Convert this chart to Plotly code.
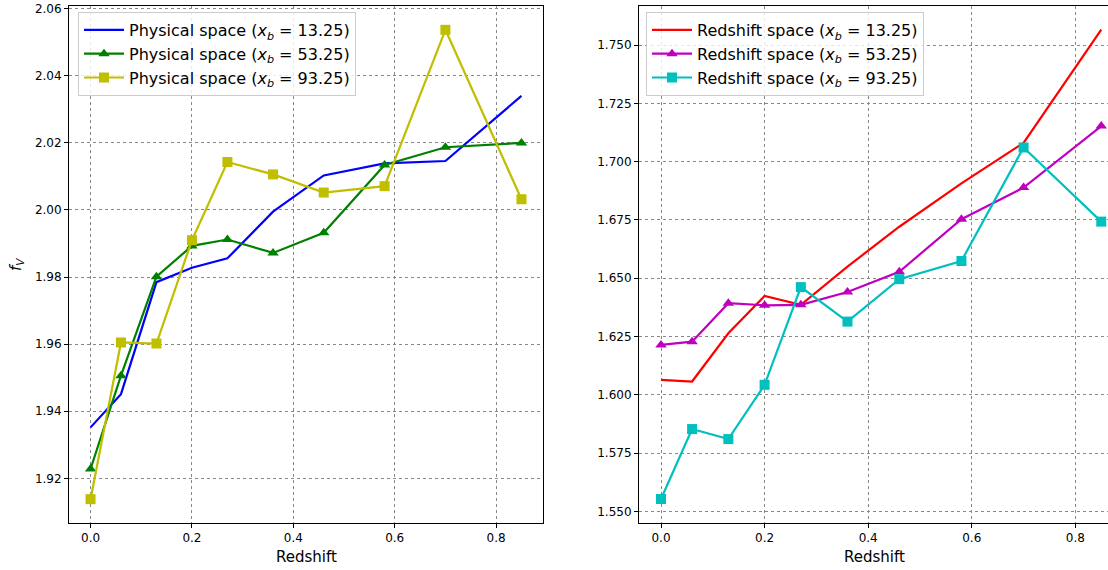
import plotly.graph_objects as go

redshift = [0.0, 0.06, 0.13, 0.20, 0.27, 0.36, 0.46, 0.58, 0.70, 0.85]

phys_13 = [1.9352, 1.9451, 1.9785, 1.9828, 1.9856, 1.9995, 2.0103, 2.0139, 2.0146, 2.0340]
phys_53 = [1.9228, 1.9506, 1.9801, 1.9893, 1.9912, 1.9872, 1.9932, 2.0134, 2.0187, 2.0200]
phys_93 = [1.9138, 1.9605, 1.9602, 1.9910, 2.0143, 2.0106, 2.0052, 2.0071, 2.0537, 2.0032]

red_13 = [1.6064, 1.6057, 1.6264, 1.6424, 1.6386, 1.6550, 1.6721, 1.6907, 1.7081, 1.7567]
red_53 = [1.6214, 1.6228, 1.6393, 1.6384, 1.6386, 1.6441, 1.6528, 1.6753, 1.6889, 1.7153]
red_93 = [1.5553, 1.5853, 1.5810, 1.6043, 1.6462, 1.6314, 1.6496, 1.6574, 1.7061, 1.6743]

left_yticks = [1.92, 1.94, 1.96, 1.98, 2.00, 2.02, 2.04, 2.06]
right_yticks = [1.550, 1.575, 1.600, 1.625, 1.650, 1.675, 1.700, 1.725, 1.750]
xticks = [0.0, 0.2, 0.4, 0.6, 0.8]

FONT = "DejaVu Sans"
fig = go.Figure()

def add(y, name, color, symbol, xa, ya, leg):
    mode = "lines" if symbol is None else "lines+markers"
    fig.add_trace(go.Scatter(
        x=redshift, y=y, name=name, mode=mode,
        line=dict(color=color, width=2.2),
        marker=dict(symbol=symbol or "circle", size=10, color=color),
        xaxis=xa, yaxis=ya, legend=leg))

add(phys_13, "Physical space (<i>x<sub>b</sub></i> = 13.25)", "#0000ff", None, "x", "y", "legend")
add(phys_53, "Physical space (<i>x<sub>b</sub></i> = 53.25)", "#008000", "triangle-up", "x", "y", "legend")
add(phys_93, "Physical space (<i>x<sub>b</sub></i> = 93.25)", "#bfbf00", "square", "x", "y", "legend")
add(red_13, "Redshift space (<i>x<sub>b</sub></i> = 13.25)", "#ff0000", None, "x2", "y2", "legend2")
add(red_53, "Redshift space (<i>x<sub>b</sub></i> = 53.25)", "#bf00bf", "triangle-up", "x2", "y2", "legend2")
add(red_93, "Redshift space (<i>x<sub>b</sub></i> = 93.25)", "#00bfbf", "square", "x2", "y2", "legend2")

W, H = 1108, 570
L, R, T, B = 69, 0, 6, 47
pw = W - L - R
ph = H - T - B

axis_common = dict(
    showline=True, linecolor="black", linewidth=1,
    ticks="outside", ticklen=4, tickcolor="black", tickwidth=1,
    showgrid=True, gridcolor="#888888", gridwidth=0.8, griddash="dot",
    zeroline=False, tickfont=dict(family=FONT, size=12, color="black"),
)

legend_common = dict(
    bgcolor="rgba(255,255,255,0.8)", bordercolor="#cccccc", borderwidth=1,
    font=dict(family=FONT, size=16, color="black"),
    xanchor="left", yanchor="top", tracegroupgap=0, itemwidth=40,
)

fig.update_layout(
    width=W, height=H,
    margin=dict(l=L, r=R, t=T, b=B),
    paper_bgcolor="white", plot_bgcolor="white",
    font=dict(family=FONT, color="black"),
    xaxis=dict(domain=[0, (543 - L) / pw], range=[-0.0425, 0.8925],
               tickvals=xticks, tickformat=".1f", mirror=True, anchor="y", **axis_common),
    yaxis=dict(domain=[0, 1], range=[1.9067, 2.0608], tickvals=left_yticks,
               tickformat=".2f", mirror=True, anchor="x", **axis_common),
    xaxis2=dict(domain=[(639 - L) / pw, 1], range=[-0.0425, 0.863],
                tickvals=xticks, tickformat=".1f", mirror=True, anchor="y2", **axis_common),
    yaxis2=dict(domain=[0, 1], range=[1.545, 1.7668], tickvals=right_yticks,
                tickformat=".3f", mirror=False, anchor="x2", **axis_common),
    legend=dict(x=(78 - L) / pw, y=(H - B - 12) / ph, **legend_common),
    legend2=dict(x=(646 - L) / pw, y=(H - B - 12) / ph, **legend_common),
    showlegend=True,
    annotations=[
        dict(text="Redshift", xref="paper", yref="paper",
             x=((69 + 543) / 2 - L) / pw, y=(H - B - 557) / ph,
             xanchor="center", yanchor="middle", showarrow=False,
             font=dict(family=FONT, size=15, color="black")),
        dict(text="Redshift", xref="paper", yref="paper",
             x=(874 - L) / pw, y=(H - B - 557) / ph,
             xanchor="center", yanchor="middle", showarrow=False,
             font=dict(family=FONT, size=15, color="black")),
        dict(text="<i>f<sub>V</sub></i>", xref="paper", yref="paper",
             x=(16 - L) / pw, y=(H - B - 265) / ph, textangle=-90,
             xanchor="center", yanchor="middle", showarrow=False,
             font=dict(family=FONT, size=15, color="black")),
    ],
)

fig.write_html("out.html")
